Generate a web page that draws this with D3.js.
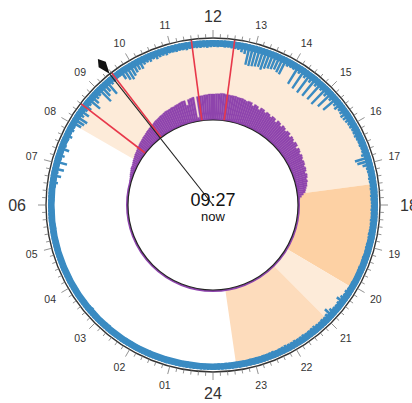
<!DOCTYPE html>
<html lang="en">
<head>
<meta charset="utf-8">
<title>24h activity clock</title>
<script src="https://d3js.org/d3.v7.min.js"></script>
<style>
  body { margin: 0; background: #fff; }
  text { font-family: "Liberation Sans", Arial, sans-serif; fill: #333; }
</style>
</head>
<body>
<script>
// 5-minute bins, 12 per hour, starting at 00:00
var blueValues = [
  20,19,20,21,20,19,20,22,21,20,19,20,
  20,21,20,19,20,21,22,20,19,20,21,20,
  21,20,22,21,20,19,20,21,23,22,20,21,
  20,21,22,24,22,20,21,20,19,20,21,20,
  19,20,21,20,19,20,21,20,20,19,20,21,
  20,21,20,19,20,22,21,20,19,20,21,20,
  20,21,22,20,21,23,28,22,35,24,40,22,
  45,24,30,22,38,25,22,24,30,22,26,24,
  40,45,50,30,42,28,35,26,55,40,30,28,
  65,50,40,60,28,25,22,22,40,50,55,48,
  42,38,40,30,28,30,26,30,27,26,28,25,
  25,26,24,25,27,24,23,24,25,24,26,24,
  23,24,22,24,23,24,25,26,32,36,70,72,
  70,68,66,72,65,60,58,55,60,62,28,25,
  26,75,28,80,30,82,32,80,30,78,28,80,
  32,70,30,65,30,35,28,30,34,32,30,28,
  28,26,27,28,26,25,26,24,25,30,55,50,
  35,26,25,24,26,25,24,25,24,26,25,24,
  24,25,24,23,25,24,23,24,25,24,23,24,
  24,23,22,24,23,22,24,23,22,21,22,23,
  22,23,26,24,28,35,26,24,25,30,40,28,
  25,26,24,25,27,26,25,24,26,25,24,26,
  25,24,26,25,24,23,25,24,23,24,22,23,
  22,23,21,22,23,22,21,22,23,21,22,21
]

var purpleValues = [
  0,0,0,0,0,0,0,0,0,0,0,0,
  0,0,0,0,0,0,0,0,0,0,0,0,
  0,0,0,0,0,0,0,0,0,0,0,0,
  0,0,0,0,0,0,0,0,0,0,0,0,
  0,0,0,0,0,0,0,0,0,0,0,0,
  0,0,0,0,0,0,0,0,0,0,0,0,
  0,0,0,0,0,0,0,0,0,0,2,3,
  5,7,8,10,12,13,15,17,17,18,20,22,
  23,25,27,28,30,32,33,35,37,38,40,42,
  43,45,47,48,50,52,53,55,57,58,60,62,
  63,65,67,67,68,70,70,72,73,75,77,77,
  60,78,80,82,13,82,83,83,85,85,87,87,
  87,88,88,90,90,88,88,87,87,87,85,85,
  85,83,80,83,82,73,80,78,70,78,77,70,
  75,73,67,73,72,63,72,70,63,70,68,62,
  67,67,58,65,63,57,63,62,53,60,58,52,
  57,55,50,53,52,47,50,48,42,47,45,40,
  42,38,37,33,30,27,20,13,7,3,0,0,
  0,0,0,0,0,0,0,0,0,0,0,0,
  0,0,0,0,0,0,0,0,0,0,0,0,
  0,0,0,0,0,0,0,0,0,0,0,0,
  0,0,0,0,0,0,0,0,0,0,0,0,
  0,0,0,0,0,0,0,0,0,0,0,0,
  0,0,0,0,0,0,0,0,0,0,0,0
]

var sectorStart = [8.0, 17.5, 20.05, 21.0]
var sectorEnd = [17.5, 20.05, 21.0, 23.45]
var sectorKind = ["light", "dark", "light", "mid"]

var markerHours = [8.5, 9.5, 11.5, 12.5]

var hourLabels = ["24","01","02","03","04","05","06","07","08","09","10","11",
                  "12","13","14","15","16","17","18","19","20","21","22","23"]

var nowLabel = "09:27"
var nowHour = 9 + 27 / 60

// layout
var w = 412, h = 403, cx = 213, cy = 205
var rInner = 85, rBand = 165, rOuter = 167
var binHours = 1 / 12
var blueFloor = 22   // solid ring under the bars

var angle = d3.scaleLinear().domain([0, 24]).range([Math.PI, 3 * Math.PI])
var blueDepth = d3.scaleLinear().domain([0, 100]).range([0, 30])
var purpleHeight = d3.scaleLinear().domain([0, 100]).range([0, 30])
var sectorColor = d3.scaleOrdinal()
  .domain(["light", "dark", "mid"])
  .range(["#fdebd9", "#fdd1a4", "#fddcbc"])

function px(r, a) { return r * Math.sin(a) }
function py(r, a) { return -r * Math.cos(a) }

var svg = d3.select("body").append("svg")
  .attr("width", w)
  .attr("height", h)

var g = svg.append("g").attr("transform", "translate(" + cx + "," + cy + ")")
var arc = d3.arc()

// background sectors
g.selectAll(".sector")
  .data(d3.range(sectorStart.length))
  .enter().append("path")
  .attr("class", "sector")
  .attr("d", function(i) {
    return arc({ innerRadius: rInner, outerRadius: rBand,
                 startAngle: angle(sectorStart[i]), endAngle: angle(sectorEnd[i]) })
  })
  .attr("fill", function(i) { return sectorColor(sectorKind[i]) })

// blue: a solid floor ring, then thin bars hanging in from the outer ring
g.append("path")
  .attr("d", arc({ innerRadius: rBand - blueDepth(blueFloor), outerRadius: rBand,
                   startAngle: 0, endAngle: 2 * Math.PI }))
  .attr("fill", "#3a8bc2")

g.selectAll(".blue")
  .data(blueValues)
  .enter().append("path")
  .attr("class", "blue")
  .attr("d", function(d, i) {
    return arc({ innerRadius: rBand - blueDepth(d), outerRadius: rBand,
                 startAngle: angle(i * binHours), endAngle: angle((i + 0.75) * binHours) })
  })
  .attr("fill", "#3a8bc2")

// purple ring + bars growing out of the inner circle
g.append("circle")
  .attr("r", rInner + 1)
  .attr("fill", "none")
  .attr("stroke", "#8e44ad")
  .attr("stroke-width", 2)

g.selectAll(".purple")
  .data(d3.range(purpleValues.length).filter(function(i) { return purpleValues[i] > 0 }))
  .enter().append("path")
  .attr("class", "purple")
  .attr("d", function(i) {
    return arc({ innerRadius: rInner, outerRadius: rInner + purpleHeight(purpleValues[i]),
                 startAngle: angle(i * binHours), endAngle: angle((i + 1) * binHours) })
  })
  .attr("fill", "#8e44ad")
  .attr("stroke", "#8e44ad")
  .attr("stroke-width", 0.3)

// red markers
g.selectAll(".marker")
  .data(markerHours)
  .enter().append("line")
  .attr("x1", function(d) { return px(rInner, angle(d)) })
  .attr("y1", function(d) { return py(rInner, angle(d)) })
  .attr("x2", function(d) { return px(rOuter, angle(d)) })
  .attr("y2", function(d) { return py(rOuter, angle(d)) })
  .attr("stroke", "#e8384a")
  .attr("stroke-width", 1.6)

// outer ring and ticks
g.append("circle")
  .attr("r", rOuter)
  .attr("fill", "none")
  .attr("stroke", "#333")
  .attr("stroke-width", 1.4)

g.selectAll(".tick")
  .data(d3.range(0, 144))
  .enter().append("line")
  .attr("x1", function(i) { return px(rOuter, angle(i / 6)) })
  .attr("y1", function(i) { return py(rOuter, angle(i / 6)) })
  .attr("x2", function(i) { return px(rOuter + (i % 6 == 0 ? 8 : 4), angle(i / 6)) })
  .attr("y2", function(i) { return py(rOuter + (i % 6 == 0 ? 8 : 4), angle(i / 6)) })
  .attr("stroke", "#777")
  .attr("stroke-width", 0.8)

var labels = g.selectAll(".hour")
  .data(hourLabels)
  .enter().append("text")
  .attr("class", "hour")
  .attr("text-anchor", "middle")
  .attr("dominant-baseline", "central")
  .attr("font-size", function(d, i) { return i % 6 == 0 ? "16px" : "10.5px" })
  .text(function(d) { return d })

// push each label out by half its box so it clears the ticks
labels.each(function(d, i) {
  var b = this.getBBox()
  var a = angle(i)
  var big = i % 6 == 0
  var base = big ? 183 : 181
  var capH = (big ? 16 : 10.5) * 0.72
  var halfW = b.width / 2 + (big ? 4 : 0)
  var r = base + Math.abs(Math.sin(a)) * halfW + Math.abs(Math.cos(a)) * capH / 2
  d3.select(this).attr("x", px(r, a)).attr("y", py(r, a))
})

// inner disc
g.append("circle")
  .attr("r", rInner)
  .attr("fill", "#fff")
  .attr("stroke", "#222")
  .attr("stroke-width", 1.2)

// needle for the current time
var na = angle(nowHour)
g.append("line")
  .attr("x1", 0).attr("y1", 0)
  .attr("x2", px(rOuter, na)).attr("y2", py(rOuter, na))
  .attr("stroke", "#222")
  .attr("stroke-width", 1.1)

function kite(r, off) {
  return [px(r, na) + off * Math.cos(na), py(r, na) + off * Math.sin(na)]
}
g.append("path")
  .attr("d", d3.line()([kite(rOuter, 0), kite(rOuter + 12, 4.5), kite(rOuter + 19, 0), kite(rOuter + 12, -4.5)]) + "Z")
  .attr("fill", "#111")

g.append("text")
  .attr("text-anchor", "middle")
  .attr("y", 1)
  .attr("font-size", "18px")
  .style("fill", "#111")
  .text(nowLabel)

g.append("text")
  .attr("text-anchor", "middle")
  .attr("y", 16)
  .attr("font-size", "13px")
  .style("fill", "#111")
  .text("now")
</script>
</body>
</html>
